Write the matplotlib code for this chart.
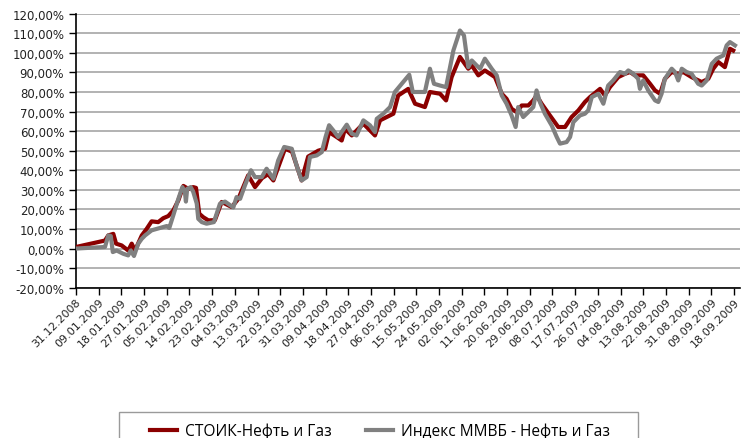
import datetime as dt
import matplotlib
matplotlib.use("Agg")
import matplotlib.pyplot as plt
from matplotlib.patches import Rectangle
from matplotlib.ticker import FuncFormatter

# days since 31.12.2008 and cumulative return, %
start = dt.date(2008, 12, 31)

stoik_days = [0.0, 11.5, 12.8, 14.8, 15.9, 18.1, 20.7, 22.1, 23.4, 26.1, 28.0,
              30.0, 32.6, 34.6, 36.6, 38.6, 40.6, 42.6, 44.5, 46.5, 47.6, 48.9,
              50.5, 52.5, 55.1, 57.8, 61.8, 64.4, 68.3, 71.0, 73.8, 76.2, 78.3,
              82.9, 85.7, 89.5, 92.1, 96.1, 98.8, 100.4, 103.4, 105.4, 106.7,
              109.4, 114.0, 118.6, 120.6, 125.9, 127.8, 131.8, 134.5, 138.4,
              140.4, 144.4, 146.8, 149.0, 152.3, 155.6, 157.0, 159.6, 162.2,
              166.2, 168.9, 170.8, 172.8, 174.8, 176.8, 179.4, 181.4, 182.7,
              184.7, 188.0, 191.3, 194.0, 196.6, 199.3, 201.9, 203.9, 207.9,
              209.8, 211.8, 215.1, 217.8, 219.8, 221.7, 225.0, 227.7, 229.7,
              231.7, 233.6, 236.3, 238.9, 240.9, 244.2, 248.2, 250.8, 252.8,
              254.8, 257.4, 259.4, 260.7]
stoik_vals = [0.8, 4.1, 6.7, 7.5, 2.5, 1.6, -1.0, 2.5, -1.0, 6.7, 10.0,
              13.9, 13.5, 15.5, 16.6, 19.5, 24.6, 32.0, 30.5, 31.4, 31.0, 17.8,
              16.0, 14.4, 14.5, 23.8, 21.2, 25.4, 37.4, 31.4, 36.0, 38.0, 34.8,
              51.0, 49.5, 34.8, 47.0, 50.0, 51.0, 59.5, 57.0, 55.2, 61.2,
              57.8, 63.8, 57.8, 65.5, 68.9, 78.2, 81.6, 74.0, 72.3,
              80.0, 79.1, 75.7, 87.6, 97.9, 91.9, 93.6, 88.5, 91.0,
              87.6, 79.1, 76.5, 71.4, 69.7, 73.1, 73.1, 75.7, 78.2,
              74.0, 68.0, 62.1, 62.1, 67.2, 70.6, 74.9, 77.4, 81.6,
              78.2, 82.5, 87.6, 89.3, 90.2, 88.5, 88.5, 84.2, 80.8,
              79.1, 86.7, 90.2, 89.3, 90.2, 87.6, 85.1, 86.7, 91.9,
              95.3, 92.7, 102.1, 101.2]

micex_days = [0.0, 11.5, 12.8, 13.8, 14.6, 16.1, 18.8, 20.7, 21.7, 23.0, 24.7,
              26.1, 27.4, 30.0, 33.3, 36.0, 37.0, 38.6, 40.6, 42.2, 43.2, 43.6,
              44.1, 45.5, 46.5, 47.9, 48.5, 49.9, 51.8, 54.7, 57.1, 59.1, 62.4,
              63.7, 65.1, 67.0, 69.4, 71.0, 73.7, 75.6, 77.0, 78.3, 80.2, 82.6,
              85.6, 87.5, 89.5, 91.5, 92.8, 95.5, 97.5, 99.0, 100.4, 102.1,
              104.0, 107.4, 109.4, 111.3, 114.0, 116.6, 118.6, 119.3, 121.9,
              124.6, 126.5, 129.2, 132.2, 133.6, 135.8, 138.4, 140.4, 142.0,
              144.4, 146.8, 149.7, 152.3, 153.9, 155.6, 157.0, 158.9, 160.3,
              162.2, 164.9, 166.9, 168.9, 170.8, 172.8, 174.4, 175.4, 177.4,
              179.4, 181.4, 182.7, 184.0, 186.0, 188.7, 190.7, 192.0, 194.6,
              196.0, 197.3, 199.9, 201.9, 203.2, 204.6, 207.2, 209.2, 211.1,
              213.1, 215.8, 217.8, 219.1, 221.1, 223.0, 223.7, 225.0, 227.0,
              229.7, 231.0, 232.3, 233.6, 236.3, 237.6, 238.9, 240.3, 242.2,
              244.2, 246.8, 248.2, 250.2, 252.2, 254.1, 256.8, 258.1, 259.4,
              261.4]
micex_vals = [0.0, 0.8, 6.7, 6.4, -1.8, -1.0, -2.7, -3.5, -1.0, -3.8, 2.5,
              5.0, 6.7, 9.3, 10.5, 11.5, 10.5, 17.0, 25.4, 31.4, 28.9, 24.0,
              30.5, 31.4, 29.0, 23.0, 15.2, 13.5, 12.7, 13.5, 22.9, 24.0, 21.0,
              26.3, 25.4, 32.2, 40.0, 36.5, 36.5, 40.8, 38.2, 35.7, 45.0, 51.9,
              51.0, 42.5, 34.8, 36.5, 46.8, 47.6, 49.3, 57.0, 63.0, 60.3,
              57.0, 63.3, 58.7, 57.8, 65.5, 63.0, 59.5, 66.3, 68.9,
              72.3, 80.0, 84.2, 88.8, 80.0, 80.0, 80.0, 91.9, 84.2,
              83.3, 82.5, 101.2, 111.4, 108.9, 92.7, 96.1, 93.6, 91.9,
              97.0, 91.9, 88.5, 78.2, 74.0, 68.0, 62.1, 72.3, 67.2,
              69.7, 72.3, 80.8, 74.9, 68.9, 62.9, 57.0, 53.6, 54.4,
              57.0, 64.6, 68.0, 68.9, 70.6, 77.4, 79.1, 74.0, 83.3,
              85.9, 90.2, 89.3, 91.0, 89.3, 86.7, 81.6, 85.9, 80.8,
              75.7, 74.9, 79.1, 86.7, 91.9, 90.2, 85.9, 91.9, 90.2,
              89.3, 84.2, 83.3, 85.9, 94.4, 97.0, 98.7, 103.8, 105.5,
              103.8]

tick_days = list(range(0, 262, 9))
tick_labels = [(start + dt.timedelta(days=d)).strftime("%d.%m.%Y") for d in tick_days]

fig = plt.figure(figsize=(7.42, 4.39), dpi=100)
ax = fig.add_axes([76 / 742, 0.3424, 664 / 742, 0.6241])

ax.plot(stoik_days, stoik_vals, color="#8B0000", lw=3.0, solid_joinstyle="round",
        label="СТОИК-Нефть и Газ", zorder=3)
ax.plot(micex_days, micex_vals, color="#808080", lw=3.0, solid_joinstyle="round",
        label="Индекс ММВБ - Нефть и Газ", zorder=4)

ax.set_xlim(0, 263.4)
ax.set_ylim(-20, 120)
ax.set_yticks(range(-20, 121, 10))
ax.yaxis.set_major_formatter(FuncFormatter(lambda v, p: ("%.2f%%" % v).replace(".", ",")))
ax.set_xticks(tick_days)
ax.set_xticklabels(tick_labels, rotation=45, ha="right", va="top",
                   rotation_mode="anchor", fontsize=8)

ax.grid(axis="y", color="#A6A6A6", lw=1.2)
ax.set_axisbelow(True)
for s in ["top", "right"]:
    ax.spines[s].set_visible(False)
for s in ["left", "bottom"]:
    ax.spines[s].set_color("black")
    ax.spines[s].set_linewidth(1.2)
ax.tick_params(axis="both", direction="out", length=5, width=1, colors="black",
               labelcolor="#222222")
ax.tick_params(axis="y", labelsize=8.5)
ax.tick_params(axis="x", pad=1)

# legend box runs off the bottom edge, like the original
fig.patches.append(Rectangle((119 / 742, -0.05), 519 / 742, 0.05 + 26 / 439,
                             transform=fig.transFigure, fill=False,
                             edgecolor="#9A9A9A", lw=1.0))
fig.legend(loc="center left", bbox_to_anchor=(150 / 742, 1 - 432 / 439), ncol=2,
           frameon=False, borderpad=0, borderaxespad=0, handlelength=1.75,
           handletextpad=0.5, columnspacing=2.2,
           prop={"family": ["Open Sans", "DejaVu Sans"], "size": 11.2})

fig.savefig("out.png", dpi=100)
